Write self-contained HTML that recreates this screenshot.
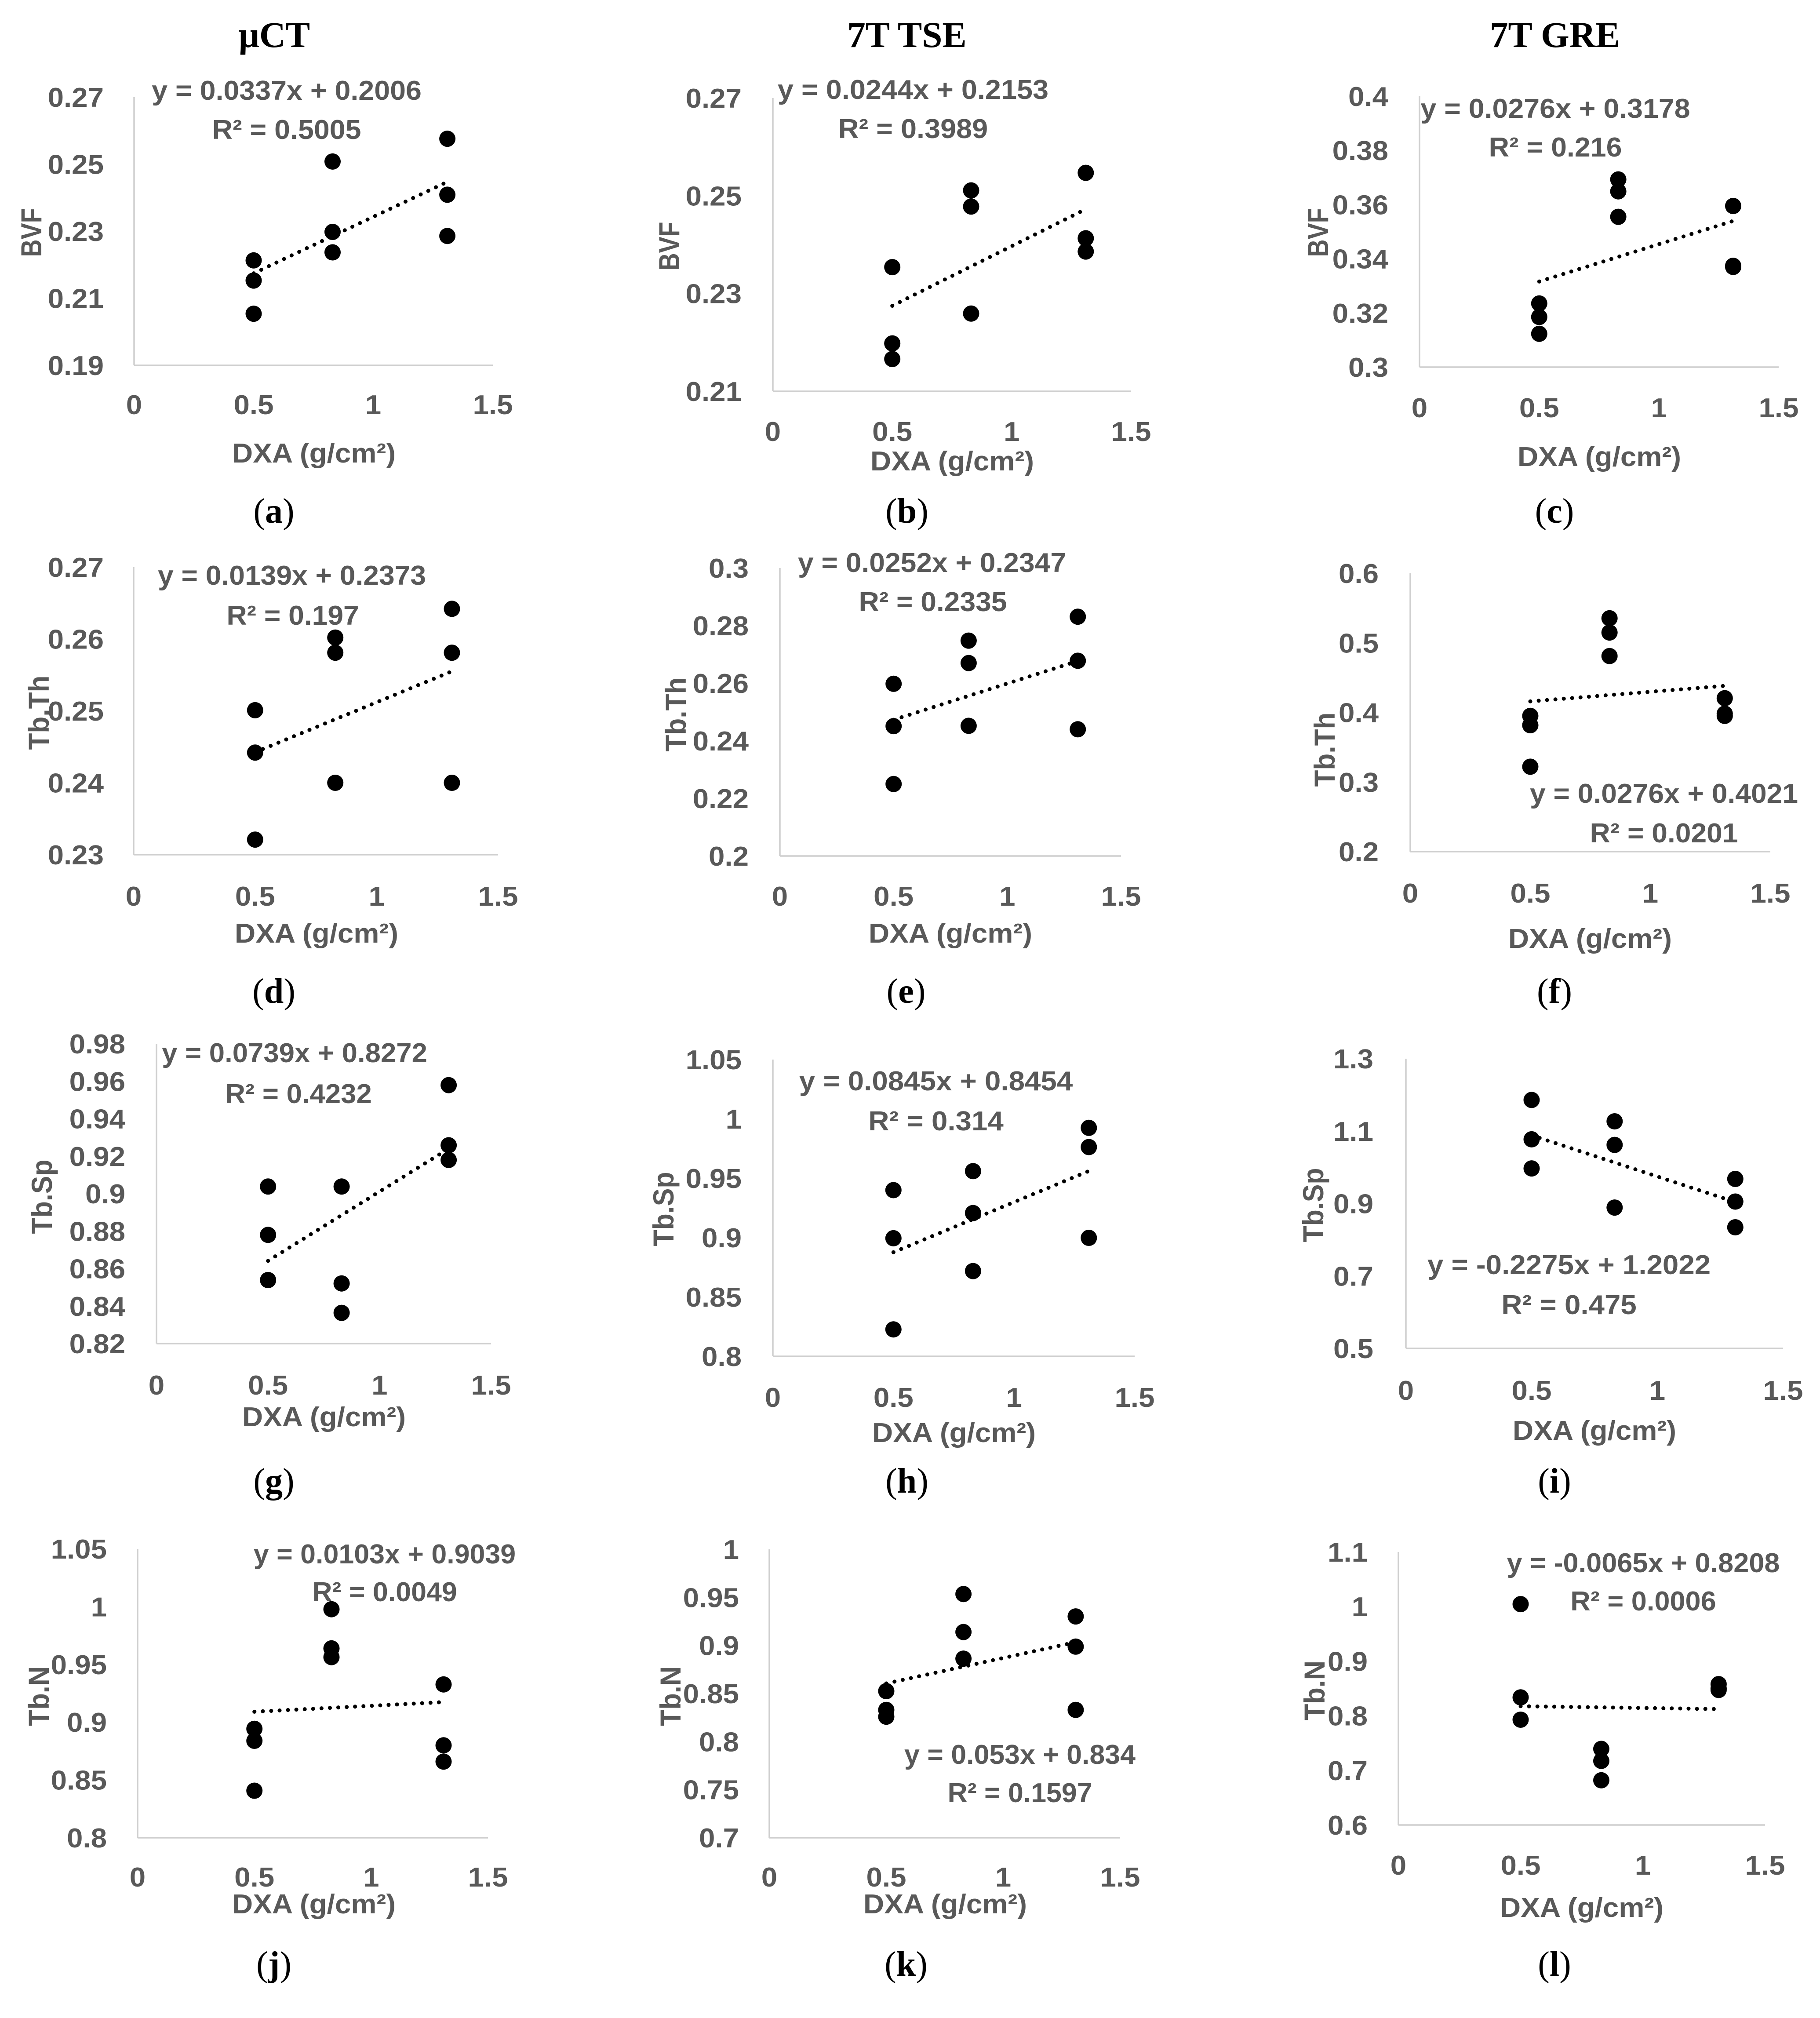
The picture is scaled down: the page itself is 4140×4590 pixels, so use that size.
<!DOCTYPE html>
<html lang="en">
<head>
<meta charset="utf-8">
<title>DXA correlation scatter plots</title>
<style>
html,body{margin:0;padding:0;background:#fff;}
svg{display:block;}
.sans{font-family:"Liberation Sans",sans-serif;font-weight:700;fill:#595959;font-size:62px;}
.serif{font-family:"Liberation Serif",serif;fill:#000;}
</style>
</head>
<body>
<svg id="figure" xmlns="http://www.w3.org/2000/svg" width="4140" height="4590" viewBox="0 0 4140 4590">
  <rect width="4140" height="4590" fill="#fff"/>
  <text class="serif" x="624" y="107" font-size="83" font-weight="700" text-anchor="middle">&#956;CT</text>
  <text class="serif" x="2063" y="107" font-size="83" font-weight="700" text-anchor="middle">7T TSE</text>
  <text class="serif" x="3537" y="107" font-size="83" font-weight="700" text-anchor="middle">7T GRE</text>
</svg>
<script>
// ---- data ----
var dxaValues = [0.5, 0.5, 0.5, 0.83, 0.83, 0.83, 1.31, 1.31, 1.31];
var xTickValues = [0, 0.5, 1, 1.5];
var xTickLabels = ['0', '0.5', '1', '1.5'];
var xAxisTitle = 'DXA (g/cm\u00B2)';

var seriesA = [0.2213, 0.2153, 0.2054, 0.2508, 0.2298, 0.2237, 0.2576, 0.2409, 0.2286];
var seriesB = [0.2354, 0.2198, 0.2166, 0.2511, 0.2478, 0.2259, 0.2547, 0.2413, 0.2386];
var seriesC = [0.3235, 0.3185, 0.3123, 0.3693, 0.3649, 0.3555, 0.3595, 0.3374, 0.3370];
var seriesD = [0.2501, 0.2442, 0.2321, 0.2602, 0.2581, 0.2400, 0.2642, 0.2581, 0.2400];
var seriesE = [0.2598, 0.2451, 0.2250, 0.2748, 0.2670, 0.2452, 0.2831, 0.2678, 0.2440];
var seriesF = [0.3951, 0.3817, 0.3220, 0.5354, 0.5149, 0.4811, 0.4205, 0.3982, 0.3951];
var seriesG = [0.9038, 0.8780, 0.8539, 0.9038, 0.8521, 0.8364, 0.9579, 0.9258, 0.9180];
var seriesH = [0.9400, 0.8995, 0.8227, 0.9560, 0.9207, 0.8718, 0.9925, 0.9763, 0.8998];
var seriesI = [1.186, 1.0774, 0.997, 1.127, 1.062, 0.889, 0.968, 0.9055, 0.8345];
var seriesJ = [0.8943, 0.8839, 0.8407, 0.9978, 0.9639, 0.9563, 0.9327, 0.8800, 0.8659];
var seriesK = [0.8525, 0.8330, 0.8259, 0.9535, 0.9140, 0.8863, 0.9302, 0.8988, 0.8330];
var seriesL = [1.0045, 0.8337, 0.7928, 0.7394, 0.7174, 0.6819, 0.8580, 0.8503, 0.8473];
var allSeries = [seriesA, seriesB, seriesC, seriesD, seriesE, seriesF, seriesG, seriesH, seriesI, seriesJ, seriesK, seriesL];

var yTicksA = ['0.19', '0.21', '0.23', '0.25', '0.27'];
var yTicksB = ['0.21', '0.23', '0.25', '0.27'];
var yTicksC = ['0.3', '0.32', '0.34', '0.36', '0.38', '0.4'];
var yTicksD = ['0.23', '0.24', '0.25', '0.26', '0.27'];
var yTicksE = ['0.2', '0.22', '0.24', '0.26', '0.28', '0.3'];
var yTicksF = ['0.2', '0.3', '0.4', '0.5', '0.6'];
var yTicksG = ['0.82', '0.84', '0.86', '0.88', '0.9', '0.92', '0.94', '0.96', '0.98'];
var yTicksH = ['0.8', '0.85', '0.9', '0.95', '1', '1.05'];
var yTicksI = ['0.5', '0.7', '0.9', '1.1', '1.3'];
var yTicksJ = ['0.8', '0.85', '0.9', '0.95', '1', '1.05'];
var yTicksK = ['0.7', '0.75', '0.8', '0.85', '0.9', '0.95', '1'];
var yTicksL = ['0.6', '0.7', '0.8', '0.9', '1', '1.1'];
var allTicks = [yTicksA, yTicksB, yTicksC, yTicksD, yTicksE, yTicksF, yTicksG, yTicksH, yTicksI, yTicksJ, yTicksK, yTicksL];

var yTitles = ['BVF', 'BVF', 'BVF', 'Tb.Th', 'Tb.Th', 'Tb.Th', 'Tb.Sp', 'Tb.Sp', 'Tb.Sp', 'Tb.N', 'Tb.N', 'Tb.N'];
var trendSlopes = [0.0337, 0.0244, 0.0276, 0.0139, 0.0252, 0.0276, 0.0739, 0.0845, -0.2275, 0.0103, 0.053, -0.0065];
var trendIntercepts = [0.2006, 0.2153, 0.3178, 0.2373, 0.2347, 0.4021, 0.8272, 0.8454, 1.2022, 0.9039, 0.834, 0.8208];
var equationLabels = ['y = 0.0337x + 0.2006', 'y = 0.0244x + 0.2153', 'y = 0.0276x + 0.3178', 'y = 0.0139x + 0.2373', 'y = 0.0252x + 0.2347', 'y = 0.0276x + 0.4021', 'y = 0.0739x + 0.8272', 'y = 0.0845x + 0.8454', 'y = -0.2275x + 1.2022', 'y = 0.0103x + 0.9039', 'y = 0.053x + 0.834', 'y = -0.0065x + 0.8208'];
var r2Labels = ['R\u00B2 = 0.5005', 'R\u00B2 = 0.3989', 'R\u00B2 = 0.216', 'R\u00B2 = 0.197', 'R\u00B2 = 0.2335', 'R\u00B2 = 0.0201', 'R\u00B2 = 0.4232', 'R\u00B2 = 0.314', 'R\u00B2 = 0.475', 'R\u00B2 = 0.0049', 'R\u00B2 = 0.1597', 'R\u00B2 = 0.0006'];
var panelLetters = ['a', 'b', 'c', 'd', 'e', 'f', 'g', 'h', 'i', 'j', 'k', 'l'];

// ---- layout (pixels, separate from data) ----
var layouts = [
 {l:305, r:1121, t:221, b:831, tr:236, xb:942, xc:714, xtb:1052, yx:94, yc:529, yLen:111, ec:652, rc:652, eb:227, rb:316, lc:623, lb:1189, ef:0.986},
 {l:1758, r:2573, t:223, b:890, tr:1687, xb:1003, xc:2166, xtb:1070, yx:1545, yc:560, yLen:111, ec:2077, rc:2077, eb:225, rb:314, lc:2063, lb:1189, ef:0.99},
 {l:3229, r:4046, t:219, b:835, tr:3158, xb:949, xc:3638, xtb:1060, yx:3021, yc:529, yLen:111, ec:3538, rc:3538, eb:268, rb:356, lc:3536, lb:1189, ef:0.985},
 {l:304, r:1133, t:1290, b:1944, tr:236, xb:2060, xc:720, xtb:2144, yx:111, yc:1621, yLen:169, ec:664, rc:666, eb:1330, rb:1421, lc:623, lb:2281, ef:0.98},
 {l:1774, r:2550, t:1292, b:1947, tr:1703, xb:2060, xc:2162, xtb:2144, yx:1560, yc:1625, yLen:169, ec:2120, rc:2122, eb:1301, rb:1390, lc:2061, lb:2281, ef:0.98},
 {l:3208, r:4027, t:1304, b:1937, tr:3136, xb:2053, xc:3617, xtb:2156, yx:3036, yc:1705, yLen:169, ec:3785, rc:3785, eb:1826, rb:1916, lc:3536, lb:2281, ef:0.98},
 {l:356, r:1117, t:2374, b:3056, tr:285, xb:3172, xc:737, xtb:3244, yx:118, yc:2722, yLen:169, ec:670, rc:679, eb:2416, rb:2509, lc:623, lb:3395, ef:0.97},
 {l:1758, r:2581, t:2410, b:3085, tr:1687, xb:3200, xc:2170, xtb:3280, yx:1532, yc:2750, yLen:169, ec:2129, rc:2129, eb:2480, rb:2571, lc:2063, lb:3395, ef:1},
 {l:3198, r:4056, t:2408, b:3067, tr:3124, xb:3184, xc:3627, xtb:3275, yx:3010, yc:2741, yLen:169, ec:3569, rc:3569, eb:2898, rb:2989, lc:3536, lb:3395, ef:1},
 {l:313, r:1110, t:3523, b:4180, tr:243, xb:4291, xc:714, xtb:4352, yx:111, yc:3858, yLen:136, ec:875, rc:875, eb:3556, rb:3642, lc:623, lb:4494, ef:0.958},
 {l:1750, r:2548, t:3524, b:4180, tr:1681, xb:4291, xc:2150, xtb:4352, yx:1548, yc:3858, yLen:136, ec:2320, rc:2320, eb:4012, rb:4099, lc:2061, lb:4494, ef:0.957},
 {l:3181, r:4015, t:3530, b:4151, tr:3111, xb:4264, xc:3598, xtb:4360, yx:3013, yc:3845, yLen:136, ec:3738, rc:3738, eb:3576, rb:3663, lc:3536, lb:4494, ef:0.964}
];

var NS = 'http://www.w3.org/2000/svg';
var STRETCH = 1.056;
var svg = document.getElementById('figure');

function svgEl(parent, tag) {
  var el = document.createElementNS(NS, tag);
  parent.appendChild(el);
  return el;
}
function sansText(parent, str, x, y, anchor, factor) {
  var t = svgEl(parent, 'text');
  t.setAttribute('class', 'sans');
  t.setAttribute('text-anchor', anchor);
  t.setAttribute('transform', 'translate(' + x + ',' + y + ') scale(' + (STRETCH * factor) + ',1)');
  t.textContent = str;
  return t;
}
function xScale(box, v) {
  return box.l + (v / 1.5) * (box.r - box.l);
}
function yScale(box, ticks, v) {
  var lo = parseFloat(ticks[0]);
  var hi = parseFloat(ticks[ticks.length - 1]);
  return box.b - ((v - lo) / (hi - lo)) * (box.b - box.t);
}

allSeries.forEach(function (series, p) {
  var box = layouts[p];
  var ticks = allTicks[p];
  var g = svgEl(svg, 'g');
  
  

  var yAxis = svgEl(g, 'line');
  
  
  yAxis.setAttribute('x1', box.l);
  yAxis.setAttribute('x2', box.l);
  yAxis.setAttribute('y1', box.t);
  yAxis.setAttribute('y2', box.b);
  yAxis.setAttribute('stroke', '#cfcfcf');
  yAxis.setAttribute('stroke-width', '3.5');

  var xAxis = svgEl(g, 'line');
  
  
  xAxis.setAttribute('x1', box.l);
  xAxis.setAttribute('x2', box.r);
  xAxis.setAttribute('y1', box.b);
  xAxis.setAttribute('y2', box.b);
  xAxis.setAttribute('stroke', '#cfcfcf');
  xAxis.setAttribute('stroke-width', '3.5');

  ticks.forEach(function (label) {
    var t = sansText(g, label, box.tr, yScale(box, ticks, parseFloat(label)) + 22, 'end', 1);
    
    
  });

  xTickValues.forEach(function (v, i) {
    var t = sansText(g, xTickLabels[i], xScale(box, v), box.xb, 'middle', 1);
    
    
  });

  var xTitle = sansText(g, xAxisTitle, box.xc, box.xtb, 'middle', 1);
  
  

  var yTitle = svgEl(g, 'text');
  
  
  yTitle.setAttribute('class', 'sans');
  yTitle.setAttribute('style', 'font-size:66px');
  yTitle.setAttribute('text-anchor', 'middle');
  yTitle.setAttribute('textLength', box.yLen);
  yTitle.setAttribute('lengthAdjust', 'spacingAndGlyphs');
  yTitle.setAttribute('transform', 'translate(' + box.yx + ',' + box.yc + ') rotate(-90)');
  yTitle.textContent = yTitles[p];

  series.forEach(function (v, i) {
    var c = svgEl(g, 'circle');
    
    
    c.setAttribute('cx', xScale(box, dxaValues[i]).toFixed(1));
    c.setAttribute('cy', yScale(box, ticks, v).toFixed(1));
    c.setAttribute('r', '18.5');
    c.setAttribute('fill', '#000');
  });

  var xStart = Math.min.apply(null, dxaValues);
  var xEnd = Math.max.apply(null, dxaValues);
  var trend = svgEl(g, 'line');
  
  
  trend.setAttribute('x1', xScale(box, xStart).toFixed(1));
  trend.setAttribute('y1', yScale(box, ticks, trendSlopes[p] * xStart + trendIntercepts[p]).toFixed(1));
  trend.setAttribute('x2', xScale(box, xEnd).toFixed(1));
  trend.setAttribute('y2', yScale(box, ticks, trendSlopes[p] * xEnd + trendIntercepts[p]).toFixed(1));
  trend.setAttribute('stroke', '#000');
  trend.setAttribute('stroke-width', '9');
  trend.setAttribute('stroke-linecap', 'round');
  trend.setAttribute('stroke-dasharray', '0.1 19');

  var eq = sansText(g, equationLabels[p], box.ec, box.eb, 'middle', box.ef);
  
  

  var r2 = sansText(g, r2Labels[p], box.rc, box.rb, 'middle', box.ef);
  
  

  var letter = svgEl(g, 'text');
  
  
  letter.setAttribute('class', 'serif');
  letter.setAttribute('font-size', '80');
  letter.setAttribute('text-anchor', 'middle');
  letter.setAttribute('x', box.lc);
  letter.setAttribute('y', box.lb);
  letter.appendChild(document.createTextNode('('));
  var bold = svgEl(letter, 'tspan');
  bold.setAttribute('font-weight', '700');
  bold.textContent = panelLetters[p];
  letter.appendChild(document.createTextNode(')'));
});
</script>
</body>
</html>
